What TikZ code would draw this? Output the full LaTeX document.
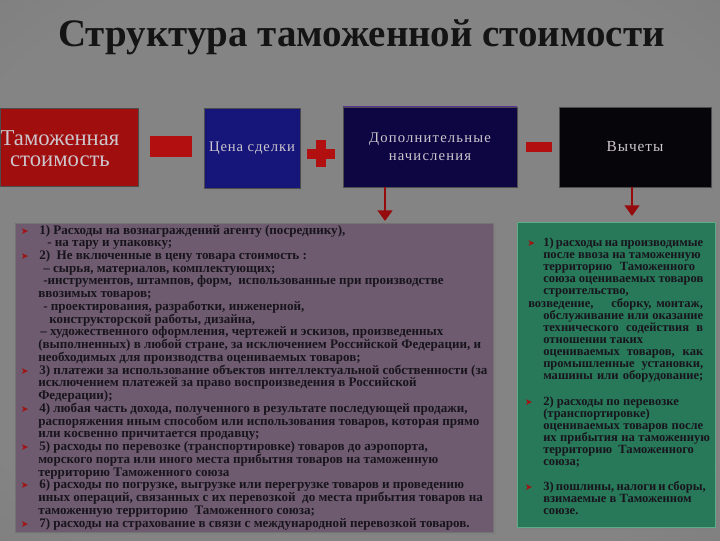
\documentclass[tikz,border=0pt]{standalone}
\usepackage{fontspec}
\setmainfont{Liberation Serif}
\newfontfamily\symfont{DejaVu Sans}
\newfontfamily\boxfont[LetterSpace=6]{Liberation Serif}
\usetikzlibrary{arrows.meta,shadows}
\definecolor{bgin}{RGB}{132,132,132}
\definecolor{bgmid}{RGB}{118,118,118}
\definecolor{bgout}{RGB}{70,70,70}
\definecolor{redbox}{RGB}{160,14,14}
\definecolor{bluebox}{RGB}{22,22,122}
\definecolor{navybox}{RGB}{14,6,66}
\definecolor{navytop}{RGB}{90,50,150}
\definecolor{blackbox}{RGB}{6,6,10}
\definecolor{signred}{RGB}{178,16,16}
\definecolor{arrred}{RGB}{150,12,12}
\definecolor{lpanel}{RGB}{110,91,111}
\definecolor{rpanel}{RGB}{40,120,90}
\definecolor{rborder}{RGB}{95,170,135}
\definecolor{ptext}{RGB}{24,20,28}
\definecolor{btext}{RGB}{205,198,205}
\definecolor{bulc}{RGB}{160,20,20}
\pgfdeclareradialshading{vign}{\pgfpoint{0bp}{0bp}}{color(0bp)=(bgin); color(30bp)=(bgin); color(50bp)=(bgmid); color(72bp)=(bgout)}
\newcommand{\bul}[1][8pt]{\llap{{\symfont\fontsize{7}{7}\selectfont\textcolor{bulc}{➤}}\hspace{#1}}}
\begin{document}
\begin{tikzpicture}[x=0.75pt,y=-0.75pt,
  box/.style={draw=black!70, line width=0.6pt, inner sep=0pt, text=btext, align=center,
    drop shadow={shadow xshift=2pt, shadow yshift=-2pt, opacity=0.45}},
  sign/.style={fill=signred, draw=none, inner sep=0pt},
  arr/.style={draw=arrred, line width=2.2pt, -{Triangle[width=11pt,length=8pt]}},
  ltxt/.style={anchor=base west, inner sep=0pt, text=ptext, font=\bfseries\fontsize{9.8}{9.8}\selectfont},
  rtxt/.style={anchor=base west, inner sep=0pt, text=ptext, font=\bfseries\fontsize{9.4}{9.4}\selectfont},
  panel/.style={line width=0.7pt, drop shadow={shadow xshift=2.5pt, shadow yshift=-2.5pt, opacity=0.5}}
]
\useasboundingbox (0,0) rectangle (720,540);
\shade[shading=vign] (0,0) rectangle (720,540);

% title
\node[anchor=base, inner sep=0pt, text=black!92, font=\bfseries\fontsize{29.2}{29.2}\selectfont] (title) at (361.5,46) {Структура таможенной стоимости};

% top boxes
\node[box, fill=redbox, minimum width=103.5pt, minimum height=58.5pt] (tv) at (69,147) {};
\node[inner sep=0pt, text=btext, align=center, font=\fontsize{17}{15.75}\selectfont] (tvt) at (60,149) {Таможенная\\стоимость};
\node[sign, minimum width=31.5pt, minimum height=15.75pt] (m1) at (171,146.5) {};
\node[box, fill=bluebox, minimum width=72pt, minimum height=60pt, font=\boxfont\fontsize{11}{12}\selectfont] (price) at (252,148) {Цена сделки};
\node[sign, minimum width=21pt, minimum height=7.5pt] (p1) at (321,153.5) {};
\node[sign, minimum width=7.5pt, minimum height=20.5pt] (p2) at (321,153.5) {};
\node[box, fill=navybox, minimum width=130.5pt, minimum height=60pt, font=\boxfont\addfontfeature{LetterSpace=8}\fontsize{11}{13.5}\selectfont] (add) at (430,147) {Дополнительные\\начисления};
\draw[navytop, line width=1.2pt] (add.north west) -- (add.north east);
\node[sign, minimum width=19.5pt, minimum height=7.5pt] (m2) at (539,147) {};
\node[box, fill=blackbox, minimum width=114pt, minimum height=60pt, font=\boxfont\fontsize{11.5}{12}\selectfont] (ded) at (635,147) {Вычеты};

% arrows
\coordinate (a1) at (385,221);
\coordinate (a2) at (632,216);
\draw[arr] (add.south -| a1) -- (a1);
\draw[arr] (ded.south -| a2) -- (a2);

% panels
\draw[panel, fill=lpanel, draw=black!55] (15,223) rectangle (493,532);
\draw[panel, fill=rpanel, draw=rborder] (517,222) rectangle (715,527);

% left panel text
\foreach \x/\t [count=\i] in {
 39/{\bul 1) Расходы на вознаграждений агенту (посреднику),},
 47/{- на тару и упаковку;},
 39/{\bul 2)\ \ Не включенные в цену товара стоимость :},
 43/{– сырья, материалов, комплектующих;},
 43/{-инструментов, штампов, форм,\ \ использованные при производстве},
 38/{ввозимых товаров;},
 43/{- проектирования, разработки, инженерной,},
 49/{конструкторской работы, дизайна,},
 40/{– художественного оформления, чертежей и эскизов, произведенных},
 38/{(выполненных) в любой стране, за исключением Российской Федерации, и},
 38/{необходимых для производства оцениваемых товаров;},
 39/{\bul 3) платежи за использование объектов интеллектуальной собственности (за},
 38/{исключением платежей за право воспроизведения в Российской},
 38/{Федерации);},
 39/{\bul 4) любая часть дохода, полученного в результате последующей продажи,},
 38/{распоряжения иным способом или использования товаров, которая прямо},
 38/{или косвенно причитается продавцу;},
 39/{\bul 5) расходы по перевозке (транспортировке) товаров до аэропорта,},
 38/{морского порта или иного места прибытия товаров на таможенную},
 38/{территорию Таможенного союза},
 39/{\bul 6) расходы по погрузке, выгрузке или перегрузке товаров и проведению},
 38/{иных операций, связанных с их перевозкой\ \ до места прибытия товаров на},
 38/{таможенную территорию\ \ Таможенного союза;},
 39/{\bul 7) расходы на страхование в связи с международной перевозкой товаров.}}
 \node[ltxt] (L\i) at (\x,{234+(\i-1)*12.74}) {\t};

% right panel text (justified lines)
\foreach \x/\y/\w/\t [count=\i] in {
 543/246/120/{\bul[6pt]1) расходы на производимые},
 543/258/118/{после ввоза на таможенную},
 543/270/114/{территорию Таможенного},
 543/282/120/{союза оцениваемых товаров},
 528/307/131/{возведение,\ \ \ \ сборку, монтаж,},
 543/319/120/{обслуживание или оказание},
 543/331/120/{технического содействия в},
 543/355/120/{оцениваемых товаров, как},
 543/367/120/{промышленные установки,},
 543/379/120/{машины или оборудование;},
 543/429/120/{оцениваемых товаров после},
 543/441/125/{их прибытия на таможенную},
 543/490/121/{\bul 3) пошлины, налоги и сборы,}}
 \node[rtxt] (RJ\i) at (\x,\y) {\makebox[\w pt][s]{\t}};

% right panel text (ragged lines)
\foreach \x/\y/\t [count=\i] in {
 543/294/{строительство,},
 543/343/{отношении таких},
 543/405/{\bul 2) расходы по перевозке},
 543/417/{(транспортировке)},
 543/453/{территорию\ \ Таможенного},
 543/465/{союза;},
 543/502/{взимаемые в Таможенном},
 543/514/{союзе.}}
 \node[rtxt] (RR\i) at (\x,\y) {\t};
\end{tikzpicture}
\end{document}
